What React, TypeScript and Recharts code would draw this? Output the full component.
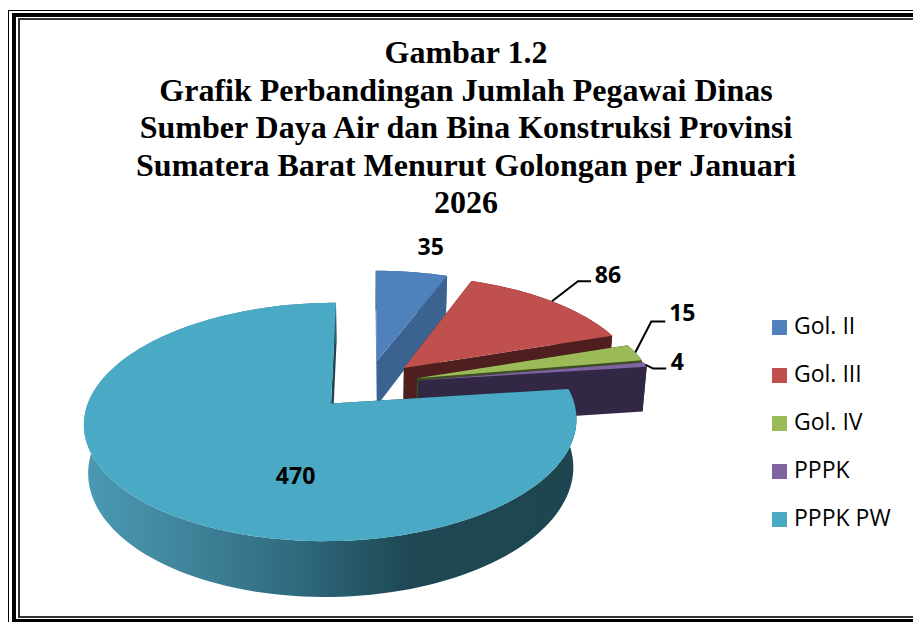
import { Legend, Pie, PieChart } from "recharts";

const categories = ["Gol. II", "Gol. III", "Gol. IV", "PPPK", "PPPK PW"];
const values = [35, 86, 15, 4, 470];
const topColors = ["#4f81bd", "#c0504d", "#9bbb59", "#8064a2", "#4aa9c4"];
const wallColors = ["#3c6390", "#4e1f1e", "#3f4f24", "#322845", "#1d4650"];
const titleLines = [
	"Gambar 1.2",
	"Grafik Perbandingan Jumlah Pegawai Dinas",
	"Sumber Daya Air dan Bina Konstruksi Provinsi",
	"Sumatera Barat Menurut Golongan per Januari",
	"2026",
];

const tableData = categories.map((name, i) => ({ name, value: values[i], fill: topColors[i] }));

// label placement relative to the rim point in the middle of each slice
const labelOffsets = [
	{ dx: 19, dy: -26, elbow: null },
	{ dx: 56, dy: -27, elbow: [[26, -20], [39, -20]] },
	{ dx: 47, dy: -41, elbow: [[16, -31], [30, -31]] },
	{ dx: 32, dy: -4, elbow: [[8, 4], [21, 4]] },
	{ dx: 151, dy: -27, elbow: null },
];

// fake 3D: unit disc -> screen, with some perspective
const EXPLODE = [0.215, 0.215, 0.215, 0.215, 0.23];
const TILT = 0.466;
const PERSP = 0.15;
const DEPTH = 0.194;
const SHRINK = 0.985;
const STEP = 2;

function project(cx: number, cy: number, r: number, u: number, v: number, low = false) {
	const w = 1 - PERSP * v;
	const s = low ? SHRINK : 1;
	return [cx + (s * r * u) / w, cy + (r * TILT * v + (low ? r * DEPTH : 0)) / w];
}

function toPath(points: number[][]) {
	return "M" + points.map((p) => `${p[0].toFixed(2)},${p[1].toFixed(2)}`).join("L") + "Z";
}

function discPoint(angle: number, mid: number, index: number, radius = 1) {
	const a = (angle * Math.PI) / 180;
	const m = (mid * Math.PI) / 180;
	const e = EXPLODE[index];
	return [e * Math.cos(m) + radius * Math.cos(a), -e * Math.sin(m) - radius * Math.sin(a)];
}

function Slice3D(props: any) {
	const { cx, cy, outerRadius: r, startAngle, endAngle, midAngle, index, fill } = props;
	const mid = midAngle ?? (startAngle + endAngle) / 2;
	const angles: number[] = [];
	for (let a = startAngle; a > endAngle; a -= STEP) angles.push(a);
	angles.push(endAngle);
	const rim = angles.map((a) => discPoint(a, mid, index));
	const top = rim.map(([u, v]) => project(cx, cy, r, u, v));
	const low = rim.map(([u, v]) => project(cx, cy, r, u, v, true));
	const c = discPoint(0, mid, index, 0);
	const apexTop = project(cx, cy, r, c[0], c[1]);
	const apexLow = project(cx, cy, r, c[0], c[1], true);
	const wall = wallColors[index];
	const gradId = `rim-${index}`;
	return (
		<g>
			{index === 4 && (
				<defs>
					<linearGradient id={gradId} x1="0" y1="0" x2="1" y2="0">
						<stop offset="0" stopColor="#4a9ab4" />
						<stop offset="0.2" stopColor="#40859c" />
						<stop offset="0.43" stopColor="#2f6a7e" />
						<stop offset="0.66" stopColor="#1e4854" />
						<stop offset="1" stopColor="#1d4650" />
					</linearGradient>
				</defs>
			)}
			<path d={toPath([apexTop, top[0], low[0], apexLow])} fill={wall} />
			<path d={toPath([apexTop, top[top.length - 1], low[low.length - 1], apexLow])} fill={wall} />
			<path d={toPath([...top, ...[...low].reverse()])} fill={index === 4 ? `url(#${gradId})` : wall} />
			<path d={toPath([apexTop, ...top])} fill={fill} />
		</g>
	);
}

function SliceLabel(props: any) {
	const { cx, cy, outerRadius: r, midAngle, index, value } = props;
	const [u, v] = discPoint(midAngle, midAngle, index);
	const [x, y] = project(cx, cy, r, u, v);
	const o = labelOffsets[index];
	return (
		<g>
			{o.elbow && (
				<polyline
					points={[[x, y], ...o.elbow.map((e) => [x + e[0], y + e[1]])].map((p) => p.join(",")).join(" ")}
					fill="none"
					stroke="#000"
					strokeWidth={2}
				/>
			)}
			<text
				x={x + o.dx}
				y={y + o.dy}
				textAnchor="middle"
				dominantBaseline="central"
				fontFamily="'Open Sans', sans-serif"
				fontWeight={700}
				fontSize={23}
				fill="#000"
			>
				{value}
			</text>
		</g>
	);
}

function frameBox(left: number, top: number, bottom: number, size: number, color: string) {
	return (
		<div
			style={{
				position: "absolute",
				left,
				top,
				width: 1200,
				height: bottom - top - 2 * size,
				border: `${size}px solid ${color}`,
			}}
		/>
	);
}

export default function App() {
	return (
		<div
			style={{
				position: "absolute",
				left: 0,
				top: 0,
				width: 913,
				height: 622,
				overflow: "hidden",
				background: "#fff",
			}}
		>
			{frameBox(8, 10, 640, 1, "#000")}
			{frameBox(12, 13, 623, 4, "#000")}
			{frameBox(18, 18, 618, 2, "#333")}
			<div
				style={{
					position: "absolute",
					left: 66,
					top: 34,
					width: 800,
					textAlign: "center",
					fontFamily: "'Liberation Serif', serif",
					fontWeight: 700,
					fontSize: 32,
					lineHeight: "37.5px",
					color: "#000",
				}}
			>
				{titleLines.map((line) => (
					<div key={line}>{line}</div>
				))}
			</div>
			<div style={{ position: "absolute", left: 0, top: 0 }}>
				<PieChart width={913} height={622} margin={{ top: 0, right: 0, bottom: 0, left: 0 }}>
					<Pie
						data={tableData}
						dataKey="value"
						nameKey="name"
						cx={368}
						cy={384}
						outerRadius={237}
						startAngle={90}
						endAngle={-270}
						stroke="none"
						isAnimationActive={false}
						shape={Slice3D}
						inactiveShape={Slice3D}
						activeShape={Slice3D}
						label={SliceLabel}
						labelLine={false}
					/>
					<Legend
						layout="vertical"
						align="right"
						verticalAlign="top"
						iconType="square"
						iconSize={15}
						wrapperStyle={{
							position: "absolute",
							left: 772,
							top: 301,
							width: 141,
							lineHeight: "48px",
							fontFamily: "'Open Sans', sans-serif",
							fontSize: 23,
						}}
						formatter={(name: string) => <span style={{ color: "#000", marginLeft: 3 }}>{name}</span>}
					/>
				</PieChart>
			</div>
		</div>
	);
}
